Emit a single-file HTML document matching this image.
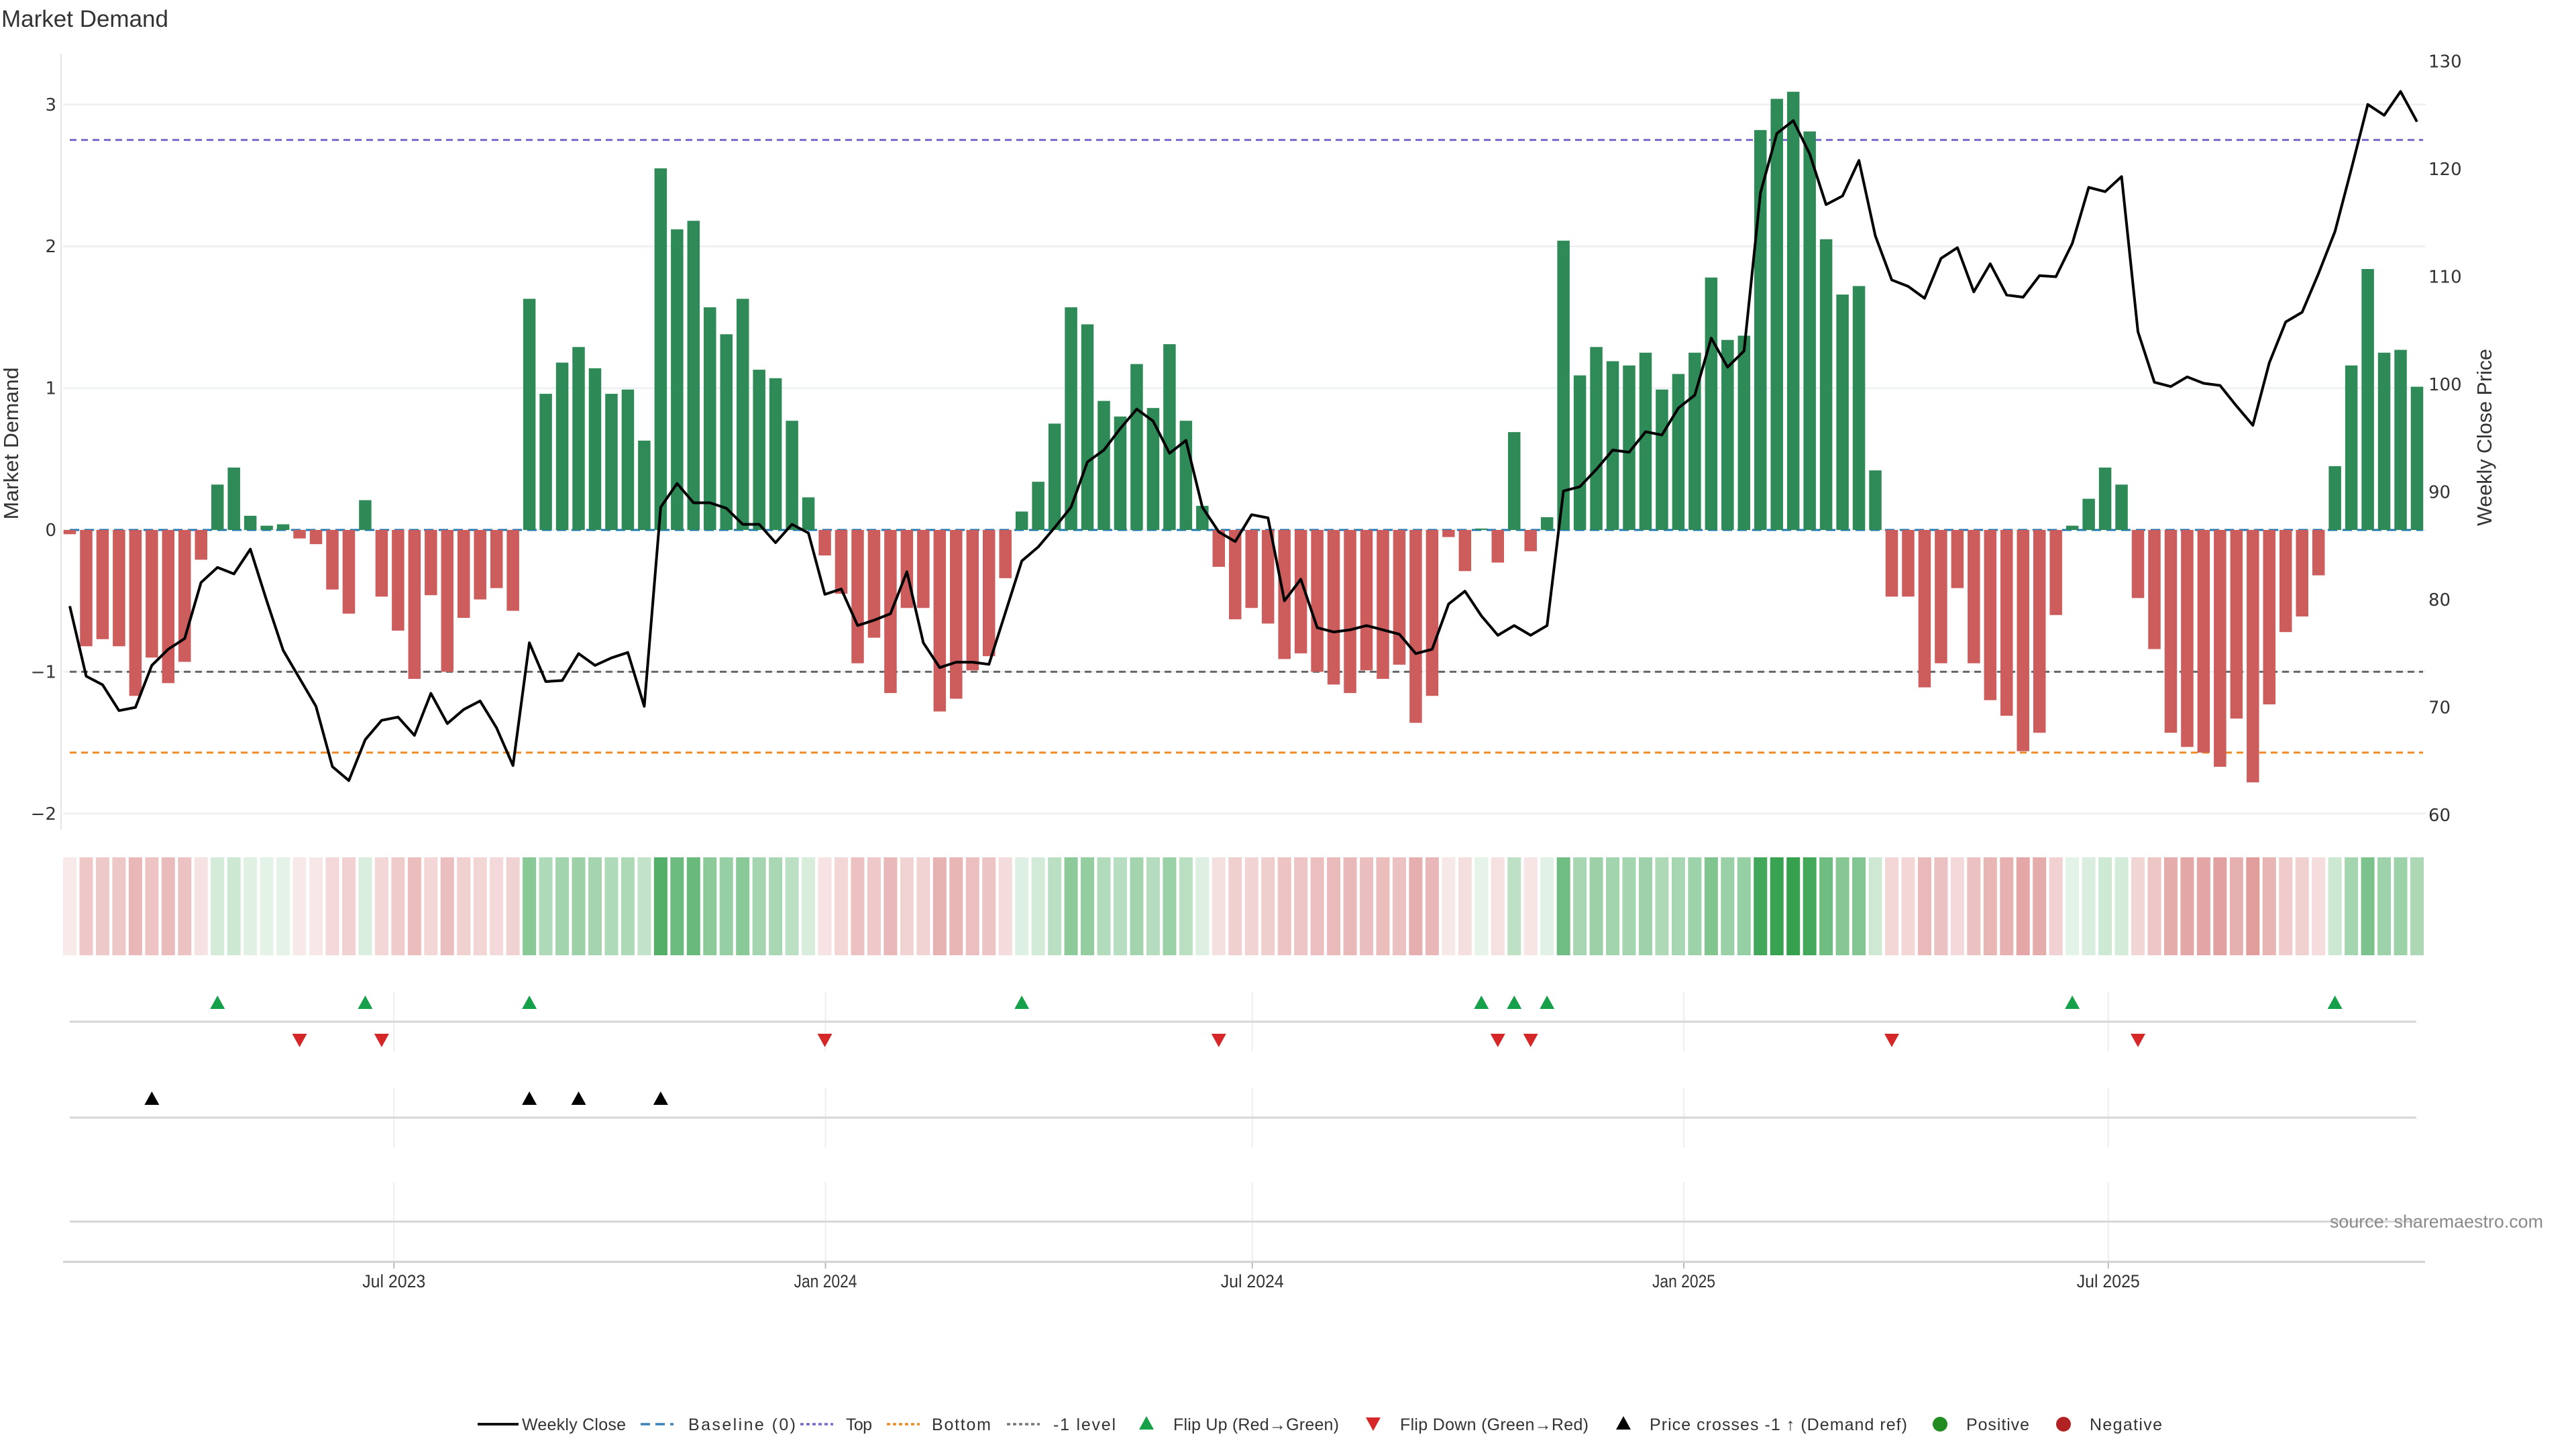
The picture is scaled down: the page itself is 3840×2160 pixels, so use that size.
<!DOCTYPE html>
<html><head><meta charset="utf-8"><title>Market Demand</title>
<style>
html,body{margin:0;padding:0;background:#fff;}
svg{display:block;}
text{font-family:"Liberation Sans","DejaVu Sans",sans-serif;}
.tk{font-family:"DejaVu Sans","Liberation Sans",sans-serif;font-size:26px;fill:#333;}
.nl{font-size:27px;fill:#333;}
</style></head>
<body>
<svg id="chart" width="3840" height="2160" viewBox="0 0 3840 2160" xmlns="http://www.w3.org/2000/svg">
<text x="2" y="40" font-family="DejaVu Sans, sans-serif" font-size="35" fill="#333">Market Demand</text>
<g id="g-grid"></g><g id="g-ref"></g><g id="g-bars"></g><g id="g-line"></g><g id="g-heat"></g><g id="g-panels"></g><g id="g-axes"></g><g id="g-legend"></g>
</svg>
<script>
const demandValues = [-0.03,-0.82,-0.77,-0.82,-1.17,-0.90,-1.08,-0.93,-0.21,0.32,
0.44,0.10,0.03,0.04,-0.06,-0.10,-0.42,-0.59,0.21,-0.47,
-0.71,-1.05,-0.46,-1.00,-0.62,-0.49,-0.41,-0.57,1.63,0.96,
1.18,1.29,1.14,0.96,0.99,0.63,2.55,2.12,2.18,1.57,
1.38,1.63,1.13,1.07,0.77,0.23,-0.18,-0.45,-0.94,-0.76,
-1.15,-0.55,-0.55,-1.28,-1.19,-0.99,-0.89,-0.34,0.13,0.34,
0.75,1.57,1.45,0.91,0.80,1.17,0.86,1.31,0.77,0.17,
-0.26,-0.63,-0.55,-0.66,-0.91,-0.87,-1.00,-1.09,-1.15,-0.99,
-1.05,-0.95,-1.36,-1.17,-0.05,-0.29,0.01,-0.23,0.69,-0.15,
0.09,2.04,1.09,1.29,1.19,1.16,1.25,0.99,1.10,1.25,
1.78,1.34,1.37,2.82,3.04,3.09,2.81,2.05,1.66,1.72,
0.42,-0.47,-0.47,-1.11,-0.94,-0.41,-0.94,-1.20,-1.31,-1.56,
-1.43,-0.60,0.03,0.22,0.44,0.32,-0.48,-0.84,-1.43,-1.53,
-1.57,-1.67,-1.33,-1.78,-1.23,-0.72,-0.61,-0.32,0.45,1.16,
1.84,1.25,1.27,1.01];
const closePrices = [79.4,72.9,72.1,69.7,70.0,73.9,75.4,76.4,81.6,83.0,
82.4,84.7,79.9,75.3,72.7,70.1,64.5,63.2,67.0,68.8,
69.1,67.4,71.3,68.5,69.8,70.6,68.1,64.6,76.0,72.4,
72.5,75.0,73.9,74.6,75.1,70.1,88.6,90.8,89.0,89.0,
88.5,87.0,87.0,85.3,87.0,86.2,80.5,81.0,77.6,78.1,
78.7,82.6,76.0,73.7,74.2,74.2,74.0,78.8,83.6,84.9,
86.7,88.6,92.8,93.9,95.9,97.7,96.6,93.6,94.8,88.6,
86.3,85.4,87.9,87.6,79.9,81.9,77.4,77.0,77.2,77.6,
77.2,76.8,75.0,75.4,79.6,80.8,78.5,76.7,77.6,76.7,
77.6,90.1,90.5,92.1,93.9,93.7,95.6,95.3,97.8,99.0,
104.3,101.6,103.1,117.8,123.3,124.5,121.4,116.7,117.5,120.8,
113.8,109.7,109.1,108.0,111.7,112.7,108.6,111.2,108.3,108.1,
110.1,110.0,113.1,118.3,117.9,119.3,104.9,100.2,99.8,100.7,
100.1,99.9,98.0,96.2,102.0,105.8,106.7,110.3,114.2,120.0,
126.0,125.0,127.2,124.4];
const leftTicks = [3,2,1,0,-1,-2];
const leftTickLabels = ["3","2","1","0","\u22121","\u22122"];
const rightTicks = [130,120,110,100,90,80,70,60];
const dateTickPositions = [19.75,46.04,72.04,98.33,124.19];
const dateTickLabels = ["Jul 2023","Jan 2024","Jul 2024","Jan 2025","Jul 2025"];
const topLevel = 2.75;
const bottomLevel = -1.57;
const minusOneLevel = -1;

const NS = "http://www.w3.org/2000/svg";
function mk(tag, attrs, parent){const e=document.createElementNS(NS,tag);for(const k in attrs)e.setAttribute(k,attrs[k]);parent.appendChild(e);return e;}
const X0=104, DX=(3603-104)/143, BW=18.5;
function xS(i){return X0+i*DX;}
function yS(v){return 790-211.4*v;}
function yP(p){return 1215-(p-60)*16.05;}
const gGrid=document.getElementById('g-grid'),gRef=document.getElementById('g-ref'),gBars=document.getElementById('g-bars'),gLine=document.getElementById('g-line'),gHeat=document.getElementById('g-heat'),gPan=document.getElementById('g-panels'),gAx=document.getElementById('g-axes'),gLeg=document.getElementById('g-legend');

leftTicks.forEach((v,k)=>{
  const l=mk('line',{x1:94,x2:3616,y1:yS(v),y2:yS(v),stroke:'#edf0f2','stroke-width':2.5},gGrid);
  
  
  const t=mk('text',{x:84,y:yS(v)+9,'text-anchor':'end','class':'tk'},gAx);
  t.textContent=leftTickLabels[k];
  
  
});
rightTicks.forEach(p=>{
  const t=mk('text',{x:3620,y:yP(p)+9,'class':'tk'},gAx);
  t.textContent=String(p);
  
  
});
const spine=mk('line',{x1:91,x2:91,y1:80,y2:1237,stroke:'#e4e4e4','stroke-width':2},gAx);



const b0=mk('line',{x1:104,x2:3612,y1:yS(0),y2:yS(0),stroke:'#1f77b4','stroke-width':3,'stroke-dasharray':'14 8'},gRef);


const lt=mk('line',{x1:104,x2:3612,y1:yS(topLevel),y2:yS(topLevel),stroke:'#7a68cc','stroke-width':3,'stroke-dasharray':'10 7'},gRef);


const lm=mk('line',{x1:104,x2:3612,y1:yS(minusOneLevel),y2:yS(minusOneLevel),stroke:'#666','stroke-width':3,'stroke-dasharray':'10 7'},gRef);


const lb=mk('line',{x1:104,x2:3612,y1:yS(bottomLevel),y2:yS(bottomLevel),stroke:'#f08a24','stroke-width':3,'stroke-dasharray':'10 7'},gRef);



demandValues.forEach((v,i)=>{
  const y0=yS(0),y1=yS(v);
  const r=mk('rect',{x:xS(i)-BW/2,y:Math.min(y0,y1),width:BW,height:Math.max(Math.abs(y1-y0),0.5),fill:v>=0?'#2e8b57':'#cd5c5c'},gBars);
  
  
});
const pts=closePrices.map((p,i)=>xS(i).toFixed(1)+','+yP(p).toFixed(1)).join(' ');
const pl=mk('polyline',{points:pts,fill:'none',stroke:'#000','stroke-width':4,'stroke-linejoin':'round'},gLine);



const maxAbs=3.1;
demandValues.forEach((v,i)=>{
  const t=0.12+0.85*Math.min(1,Math.abs(v)/maxAbs);
  const base=v>=0?[46,158,72]:[205,92,92];
  const c=base.map(b=>Math.round(255-t*(255-b)));
  const r=mk('rect',{x:xS(i)-10,y:1278,width:20,height:146,fill:'rgb('+c.join(',')+')'},gHeat);
  
  
});

dateTickPositions.forEach((d,k)=>{
  const x=xS(d);
  [[1478,1567],[1621,1711],[1762,1882]].forEach(seg=>{
    const g=mk('line',{x1:x,x2:x,y1:seg[0],y2:seg[1],stroke:'#eeeeee','stroke-width':2},gPan);
    
    
  });
  const tk=mk('line',{x1:x,x2:x,y1:1881,y2:1891,stroke:'#bbb','stroke-width':2},gAx);
  
  
  const t=mk('text',{x:x,y:1919,'text-anchor':'middle','class':'nl',textLength:94,lengthAdjust:'spacingAndGlyphs'},gAx);
  t.textContent=dateTickLabels[k];
  
  
});
[1523,1666,1821].forEach((y,k)=>{
  const l=mk('line',{x1:104,x2:3602,y1:y,y2:y,stroke:'#d4d6d8','stroke-width':3},gPan);
  
  
});
const xa=mk('line',{x1:94,x2:3615,y1:1881,y2:1881,stroke:'#cfd1d3','stroke-width':3},gAx);



function tri(cx,cy,up,fill,parent){
  const w=11,h=10;
  const p=up?[cx-w,cy+h,cx+w,cy+h,cx,cy-h]:[cx-w,cy-h,cx+w,cy-h,cx,cy+h];
  return mk('polygon',{points:p.join(','),fill:fill},parent);
}
for(let i=1;i<demandValues.length;i++){
  const a=demandValues[i-1],b=demandValues[i];
  if(a<0&&b>=0){const m=tri(xS(i),1494,true,'#16a04a',gPan);
    
    }
  if(a>=0&&b<0){const m=tri(xS(i),1551,false,'#d62728',gPan);
    
    }
  const pa=yP(closePrices[i-1]),pb=yP(closePrices[i]),ref=yS(minusOneLevel);
  if(pa>ref&&pb<=ref){const m=tri(xS(i),1637,true,'#000',gPan);
    
    }
}

const lt1=mk('text',{x:0,y:0,'text-anchor':'middle','class':'nl',style:'font-size:31px',textLength:227,lengthAdjust:'spacingAndGlyphs',transform:'translate(27,661) rotate(-90)'},gAx);
lt1.textContent='Market Demand';


const rt1=mk('text',{x:0,y:0,'text-anchor':'middle','class':'nl',style:'font-size:31px',textLength:264,lengthAdjust:'spacingAndGlyphs',transform:'translate(3714,652) rotate(-90)'},gAx);
rt1.textContent='Weekly Close Price';


const src=mk('text',{x:3473,y:1830,'class':'nl',style:'fill:#8a8a8a',textLength:318,lengthAdjust:'spacingAndGlyphs'},gAx);
src.textContent='source: sharemaestro.com';



const LY=2123;
function legText(x,len,s,name){const t=mk('text',{x:x,y:LY+9,'class':'nl',style:'font-size:25px',textLength:len,lengthAdjust:'spacing'},gLeg);t.textContent=s;
  
  }
function legLine(x1,x2,col,dash,w,name){const l=mk('line',{x1:x1,x2:x2,y1:LY,y2:LY,stroke:col,'stroke-width':w},gLeg);if(dash)l.setAttribute('stroke-dasharray',dash);
  
  }
legLine(712,773,'#111',null,4,'legend-weekly-close-handle');legText(778,155,'Weekly Close','legend-weekly-close');
legLine(955,1004,'#3a82b8','14 8',3.5,'legend-baseline-handle');legText(1026,160,'Baseline (0)','legend-baseline');
legLine(1193,1242,'#7a68cc','5 4',3.5,'legend-top-handle');legText(1261,39,'Top','legend-top');
legLine(1322,1371,'#f08a24','5 4',3.5,'legend-bottom-handle');legText(1389,88,'Bottom','legend-bottom');
legLine(1501,1550,'#777','5 4',3.5,'legend-minus-one-handle');legText(1570,93,'-1 level','legend-minus-one');
let m;
m=tri(1709,LY-2,true,'#16a04a',gLeg);


legText(1749,247,'Flip Up (Red\u2192Green)','legend-flip-up');
m=tri(2047,LY,false,'#d62728',gLeg);


legText(2087,281,'Flip Down (Green\u2192Red)','legend-flip-down');
m=tri(2420,LY-2,true,'#000',gLeg);


legText(2459,384,'Price crosses -1 \u2191 (Demand ref)','legend-price-cross');
m=mk('circle',{cx:2892,cy:LY,r:11,fill:'#228b22'},gLeg);


legText(2931,94,'Positive','legend-positive');
m=mk('circle',{cx:3076,cy:LY,r:11,fill:'#b22222'},gLeg);


legText(3115,108,'Negative','legend-negative');
</script>
</body></html>
